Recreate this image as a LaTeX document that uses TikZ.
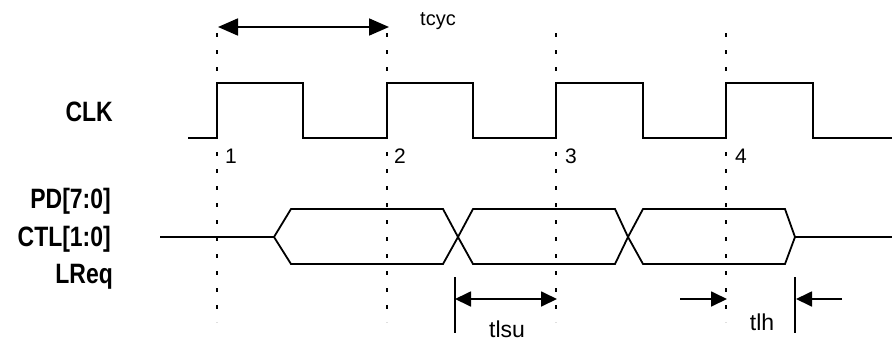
\documentclass[tikz,border=0pt]{standalone}
\usepackage{fontspec}
\setmainfont{Liberation Sans}
\newfontfamily\signame[FakeStretch=0.82]{Liberation Sans}
\usetikzlibrary{arrows.meta,positioning}

\begin{document}
\begin{tikzpicture}[x=1pt,y=-1pt,
  wave/.style={line width=1.8pt,line join=miter},
  guide/.style={line width=1.8pt,dash pattern=on 4pt off 13pt},
  bigdim/.style={line width=1.8pt,{Triangle[length=20pt,width=17pt]}-{Triangle[length=20pt,width=17pt]}},
  smalldim/.style={line width=1.8pt,-{Triangle[length=16pt,width=15pt]}},
  sigtext/.style={inner sep=0pt,anchor=base east,font=\signame\bfseries\fontsize{28}{30}\selectfont},
  numtext/.style={inner sep=0pt,anchor=base west,font=\fontsize{21}{23}\selectfont},
  timetext/.style={inner sep=0pt,anchor=base,font=\fontsize{23}{25}\selectfont}]
  \useasboundingbox (0,0) rectangle (892,341);

  % Signal names
  \node[sigtext] (clk) at (113,121) {CLK};
  \node[sigtext] (pd)  at (111,208) {PD[7:0]};
  \node[sigtext] (ctl) at (111,246) {CTL[1:0]};
  \node[sigtext] (lreq) at (113,283) {LReq};

  % Rising edges of CLK
  \coordinate (e1) at (217,0);
  \coordinate (e2) at (387,0);
  \coordinate (e3) at (556,0);
  \coordinate (e4) at (726,0);

  % Guide lines through the edges
  \draw[guide] (e1 |- 0,33) -- (e1 |- 0,322);
  \draw[guide] (e2 |- 0,33) -- (e2 |- 0,322);
  \draw[guide] (e3 |- 0,33) -- (e3 |- 0,322);
  \draw[guide] (e4 |- 0,33) -- (e4 |- 0,322);

  % Clock
  \draw[wave] (188,138) -- (217,138) -- (217,83) -- (303,83) -- (303,138)
    -- (387,138) -- (387,83) -- (473,83) -- (473,138)
    -- (556,138) -- (556,83) -- (643,83) -- (643,138)
    -- (726,138) -- (726,83) -- (813,83) -- (813,138) -- (892,138);

  % Edge numbers
  \node[numtext] (n1) at (225,163) {1};
  \node[numtext] (n2) at (394,163) {2};
  \node[numtext] (n3) at (565,163) {3};
  \node[numtext] (n4) at (735,163) {4};

  % Bus
  \draw[wave] (160,237) -- (274,237);
  \draw[wave] (274,237) -- (291,209) -- (443,209) -- (458,237) -- (443,264) -- (291,264) -- cycle;
  \draw[wave] (458,237) -- (473,209) -- (615,209) -- (628,237) -- (615,264) -- (473,264) -- cycle;
  \draw[wave] (628,237) -- (643,209) -- (785,209) -- (795,237) -- (785,264) -- (643,264) -- cycle;
  \draw[wave] (795,237) -- (892,237);

  % Cycle time
  \coordinate (cyca) at (218,27);
  \coordinate (cycb) at (389,27);
  \draw[bigdim] (cyca) -- (cycb);
  \node[inner sep=0pt,anchor=base west,font=\fontsize{20}{22}\selectfont] (tcyc) at (420,25) {tcyc};

  % Setup time
  \coordinate (sua) at (455,277);
  \coordinate (sub) at (455,333);
  \draw[line width=1.8pt] (sua) -- (sub);
  \coordinate (suc) at (455,299);
  \coordinate (sud) at (557,299);
  \draw[smalldim,{Triangle[length=16pt,width=15pt]}-{Triangle[length=16pt,width=15pt]}] (suc) -- (sud);
  \node[timetext] (tlsu) at (507,337) {tlsu};

  % Hold time
  \coordinate (ha) at (795,277);
  \coordinate (hb) at (795,333);
  \draw[line width=1.8pt] (ha) -- (hb);
  \coordinate (hc) at (680,299);
  \coordinate (hd) at (727,299);
  \draw[smalldim] (hc) -- (hd);
  \coordinate (he) at (842,299);
  \coordinate (hf) at (796,299);
  \draw[smalldim] (he) -- (hf);
  \node[timetext] (tlh) at (762,330) {tlh};
\end{tikzpicture}
\end{document}
